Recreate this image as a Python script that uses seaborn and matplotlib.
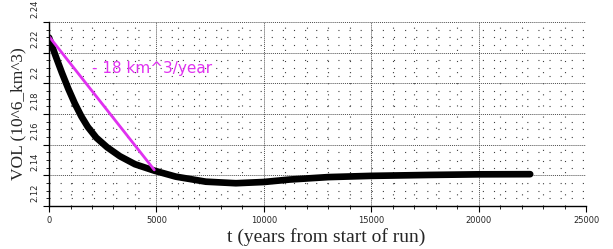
import seaborn as sns
import matplotlib.pyplot as plt
import matplotlib.transforms as mtransforms
from matplotlib.ticker import MultipleLocator

# model volume curve
t_years = [0, 300, 600, 900, 1200, 1500, 1800, 2200, 2700, 3300, 4000, 4900,
           5900, 7300, 8700, 10000, 11200, 13000, 15000, 17700, 20000, 22400]
vol = [2.2298, 2.2180, 2.2068, 2.1963, 2.1868, 2.1785, 2.1716, 2.1645, 2.1583, 2.1524, 2.1472,
       2.1430, 2.1391, 2.1358, 2.1348, 2.1356, 2.1372, 2.1388, 2.1396, 2.1402, 2.1406, 2.1407]

# trend line (-18 km^3/year)
trend_t = [0, 4900]
trend_vol = [2.2305, 2.1435]
trend_label = '- 18 km^3/year'

sns.set_style('white')
fig = plt.figure(figsize=(6.13, 2.49), dpi=100)
ax = fig.add_axes([0.080, 0.173, 0.876, 0.739])

sns.lineplot(x=t_years, y=vol, ax=ax, color='black', linewidth=4.8, solid_capstyle='round')
sns.lineplot(x=trend_t, y=trend_vol, ax=ax, color='#e030f0', linewidth=2.0)
ax.text(2000, 2.2094, trend_label, color='#e030f0', fontsize=11, va='center',
        family='DejaVu Sans')

ax.set_xlim(0, 25000)
ax.set_ylim(2.12, 2.24)
ax.xaxis.set_major_locator(MultipleLocator(5000))
ax.xaxis.set_minor_locator(MultipleLocator(1000))
ax.yaxis.set_minor_locator(MultipleLocator(0.005))
ax.set_yticks([2.12, 2.14, 2.16, 2.18, 2.2, 2.22, 2.24])
ax.set_yticklabels(['2.12', '2.14', '2.16', '2.18', '2.2', '2.22', '2.24'])

ax.grid(True, which='major', color='0.3', linestyle=(0, (1, 1)), linewidth=0.7)
ax.grid(True, which='minor', color='0.25', linestyle=(0, (1, 9)), linewidth=0.8)
ax.set_axisbelow(True)

for s in ['top', 'right']:
    ax.spines[s].set_visible(False)
for s in ['left', 'bottom']:
    ax.spines[s].set_color('black')
    ax.spines[s].set_linewidth(1.0)

ax.tick_params(which='major', direction='out', length=4, width=0.8, color='black',
               labelsize=6, pad=3, left=True, bottom=True)
ax.tick_params(which='minor', direction='out', length=2, width=0.6, color='black',
               left=True, bottom=True)

offset = mtransforms.ScaledTranslation(0, 3 / 72, fig.dpi_scale_trans)
for lab in ax.get_yticklabels():
    lab.set_rotation(90)
    lab.set_va('bottom')
    lab.set_transform(lab.get_transform() + offset)

ax.set_xlabel('t (years from start of run)', family='Liberation Serif', fontsize=14)
ax.set_ylabel('VOL (10^6_km^3)', family='Liberation Serif', fontsize=12.5)
ax.xaxis.set_label_coords(0.516, -0.12)
ax.yaxis.set_label_coords(-0.042, 0.5)

fig.savefig('out.png', dpi=100)
